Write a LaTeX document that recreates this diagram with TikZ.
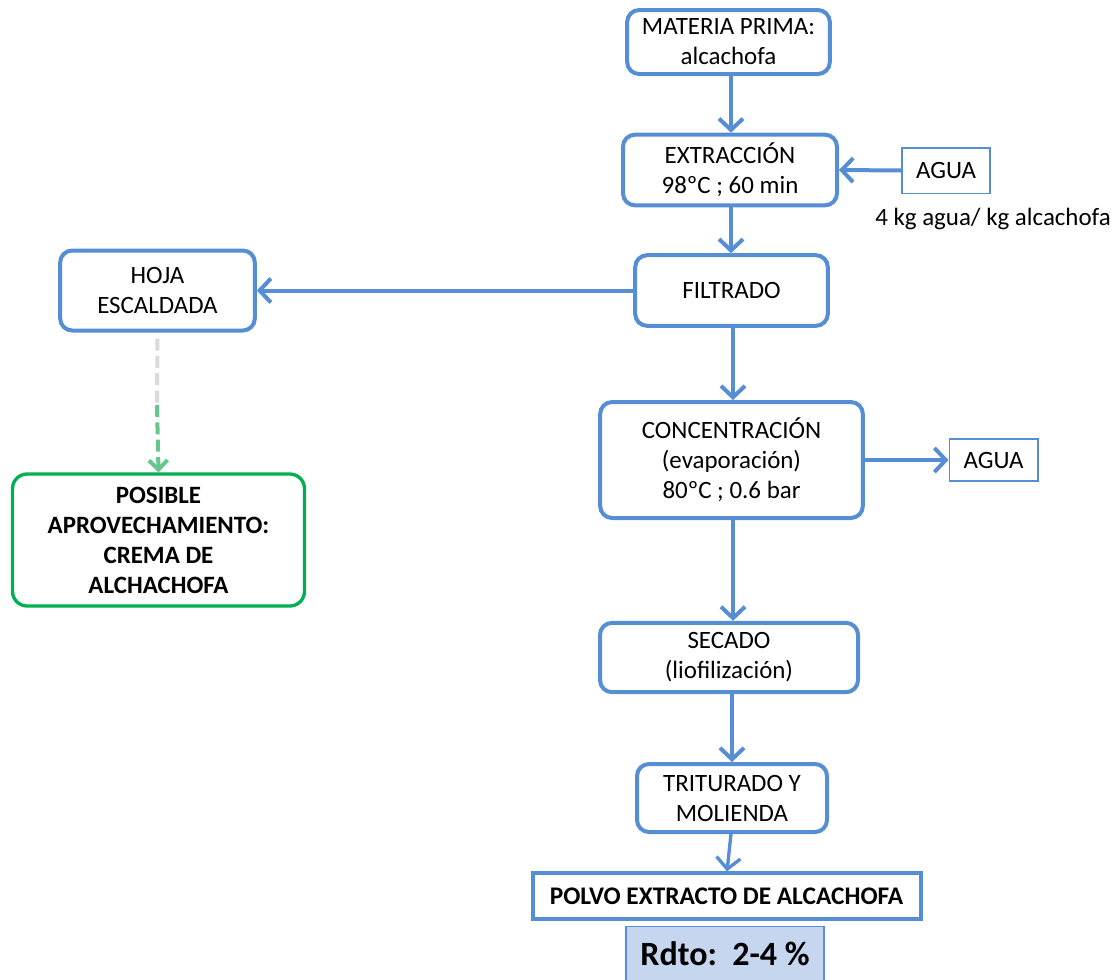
\documentclass[tikz,border=0pt]{standalone}
\usepackage{fontspec}
\setmainfont{Carlito}
\usetikzlibrary{arrows.meta}
\definecolor{flowblue}{RGB}{85,142,213}
\definecolor{leafgreen}{RGB}{0,176,80}
\definecolor{dashgreen}{RGB}{100,200,140}
\definecolor{dashgray}{RGB}{218,218,218}
\definecolor{yieldfill}{RGB}{198,214,238}
\tikzset{
  x=0.75pt, y=-0.75pt,
  every node/.style={font=\fontsize{18.7}{22.5}\selectfont, align=center, inner sep=0pt},
  procbox/.style={draw=flowblue, line width=3pt, rounded corners=9pt, fill=white},
  thinbox/.style={draw=flowblue, line width=1pt, fill=white},
  flow/.style={draw=flowblue, line width=3pt, -{Straight Barb[length=8.5pt,width=18pt]}},
}
\begin{document}
\begin{tikzpicture}
\useasboundingbox (0,0) rectangle (1120,979);

% main process chain
\node[procbox, minimum width=152pt, minimum height=48pt] (mp) at (728.5,42) {MATERIA PRIMA:\\alcachofa};
\node[procbox, minimum width=160.5pt, minimum height=53pt] (ext) at (730,170) {EXTRACCIÓN\\98ºC ; 60 min};
\node[thinbox, minimum width=66pt, minimum height=34pt] (agua1) at (946,170.5) {AGUA};
\node[anchor=north west] (ratio) at (875,208) {4 kg agua/ kg alcachofa};
\node[procbox, minimum width=144.5pt, minimum height=53pt] (fil) at (731.5,290.5) {FILTRADO};
\node[procbox, minimum width=146pt, minimum height=60pt] (hoja) at (157.5,290.5) {HOJA\\ESCALDADA};
\node[draw=leafgreen, line width=2.5pt, rounded corners=11pt, minimum width=219pt, minimum height=99pt,
      font=\fontsize{18.7}{22.5}\selectfont\bfseries] (pos) at (158.5,540) {POSIBLE\\APROVECHAMIENTO:\\CREMA DE\\ALCHACHOFA};
\node[procbox, minimum width=197pt, minimum height=87pt] (conc) at (731.5,460) {CONCENTRACIÓN\\(evaporación)\\80ºC ; 0.6 bar};
\node[thinbox, minimum width=66.5pt, minimum height=31.5pt] (agua2) at (993.5,460) {AGUA};
\node[procbox, minimum width=193.5pt, minimum height=52pt] (sec) at (729,657.5) {SECADO\\(liofilización)};
\node[procbox, minimum width=142.5pt, minimum height=51pt] (trit) at (732,798) {TRITURADO Y\\MOLIENDA};
\node[draw=flowblue, line width=3pt, minimum width=291pt, minimum height=34pt,
      font=\fontsize{19}{22.5}\selectfont\bfseries] (polvo) at (726.5,896) {POLVO EXTRACTO DE ALCACHOFA};
\node[draw=flowblue, line width=1pt, fill=yieldfill, minimum width=148.5pt, minimum height=41pt,
      font=\fontsize{25.5}{30}\selectfont\bfseries] (rdto) at (725,953.5) {Rdto:\ \ 2-4 \%};

% connectors
\draw[flow] (mp.south -| 731,0) -- (ext.north -| 731,0);
\draw[flow] (agua1.west) -- (ext.east);
\draw[flow] (ext.south -| 731,0) -- (fil.north -| 731,0);
\draw[flow] (fil.west) -- (hoja.east);
\draw[flow] (fil.south -| 733,0) -- (conc.north -| 733,0);
\draw[flow] (conc.east) -- (agua2.west);
\draw[flow] (conc.south -| 733,0) -- (sec.north -| 733,0);
\draw[flow] (sec.south -| 732,0) -- (trit.north -| 732,0);
\draw[flow, line width=2.5pt] (trit.south -| 731,0) -- (polvo.north -| 727,0);

% side stream to possible reuse
\coordinate (mid) at (157,405);
\draw[dashgray, line width=3pt, dash pattern=on 9pt off 4pt] (hoja.south) ++(0,6) -- (mid);
\draw[dashgreen, line width=3pt, dash pattern=on 9pt off 4pt, -{Straight Barb[length=7pt,width=14pt]}] (mid) -- (pos.north);
\end{tikzpicture}
\end{document}
